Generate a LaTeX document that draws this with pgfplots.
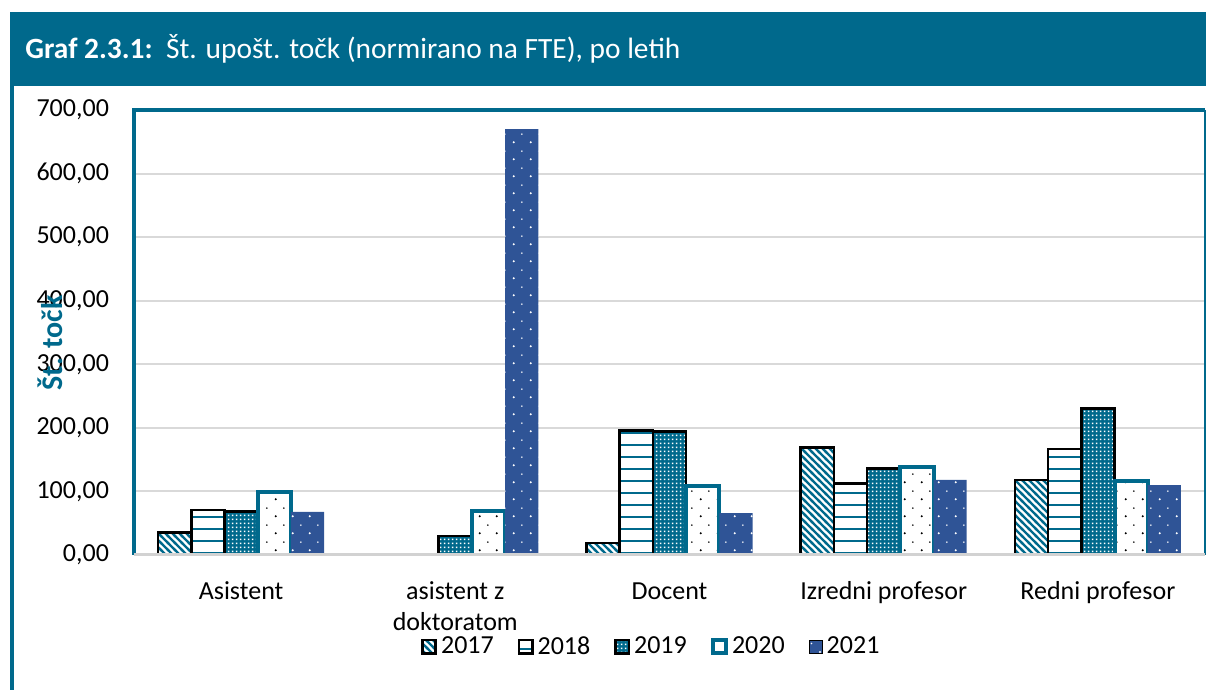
\documentclass[border=0pt]{standalone}
\usepackage{fontspec}
\setmainfont{Carlito}
\usepackage{pgfplots}
\pgfplotsset{compat=1.18}
\usetikzlibrary{patterns}
\definecolor{teal1}{RGB}{0,105,140}
\definecolor{dblue}{RGB}{47,84,150}
\pgfdeclarepatternformonly{diagstripes}{\pgfqpoint{-1pt}{-1pt}}{\pgfqpoint{4.5pt}{4.5pt}}{\pgfqpoint{3.5pt}{3.5pt}}{%
  \pgfsetlinewidth{1.2pt}\pgfsetrectcap
  \pgfpathmoveto{\pgfqpoint{-0.3pt}{3.8pt}}\pgfpathlineto{\pgfqpoint{3.8pt}{-0.3pt}}\pgfusepath{stroke}}
\pgfdeclarepatternformonly{hlines}{\pgfqpoint{-1pt}{0pt}}{\pgfqpoint{7pt}{6pt}}{\pgfqpoint{6pt}{6pt}}{%
  \pgfpathrectangle{\pgfqpoint{-0.5pt}{2pt}}{\pgfqpoint{7pt}{0.9pt}}\pgfusepath{fill}}
\pgfdeclarepatternformonly{finegrid}{\pgfqpoint{0pt}{0pt}}{\pgfqpoint{1.8pt}{1.8pt}}{\pgfqpoint{1.8pt}{1.8pt}}{%
  \pgfpathrectangle{\pgfqpoint{0.45pt}{0.45pt}}{\pgfqpoint{0.8pt}{0.8pt}}\pgfusepath{fill}}
\pgfdeclarepatternformonly{sparsedots}{\pgfqpoint{0pt}{0pt}}{\pgfqpoint{8.5pt}{8.5pt}}{\pgfqpoint{8.5pt}{8.5pt}}{%
  \pgfpathcircle{\pgfqpoint{2pt}{2pt}}{0.6pt}\pgfusepath{fill}
  \pgfpathcircle{\pgfqpoint{6.25pt}{6.25pt}}{0.45pt}\pgfusepath{fill}}
\pgfplotsset{mylegend/.style={legend image code/.code={\draw[##1] (0pt,-3.3pt) rectangle (6.6pt,3.3pt);}}}
\begin{document}
\begin{tikzpicture}[x=0.5pt,y=0.5pt]
\useasboundingbox (0,0) rectangle (1206,690);
\fill[teal1] (10,604) rectangle (1206,678);
\draw[teal1, line width=2pt] (12,604) -- (12,0);
\node[anchor=west, text=white, font=\fontsize{14.7}{17}\selectfont, inner sep=0pt] at (25,641) {\textbf{Graf 2.3.1:}\ \ Št. upošt. točk (normirano na FTE), po letih};
\begin{axis}[name=ax, at={(67pt,67.5pt)}, anchor=south west, scale only axis,
  width=535.5pt, height=222.5pt,
  ybar, bar width=0.155,
  xmin=-0.5, xmax=4.5, ymin=0, ymax=700,
  xtick={0,1,2,3,4},
  xticklabels={{\strut Asistent}, {\strut asistent z\\doktoratom}, {\strut Docent}, {\strut Izredni profesor}, {\strut Redni profesor}},
  ytick={0,100,...,700},
  major tick length=0pt,
  axis line style={draw=none},
  ymajorgrids, grid style={gray!30, line width=1pt},
  tick label style={font=\fontsize{13}{15.5}\selectfont},
  xticklabel style={align=center, yshift=-8pt},
  yticklabel style={xshift=-9pt},
  /pgf/number format/.cd, fixed, fixed zerofill, precision=2, use comma, 1000 sep={}, assume math mode=true,
  /pgfplots/.cd,
  legend style={at={(0.484,-0.206)}, anchor=center, draw=none, fill=none, legend columns=5,
    font=\fontsize{13}{15}\selectfont,
    /tikz/every even column/.append style={column sep=10pt}},
]
\addplot[mylegend, bar shift=-0.31, draw=black, line width=1.3pt, fill=white, postaction={pattern=diagstripes, pattern color=teal1}]
  coordinates {(0,35) (1,0) (2,19) (3,169) (4,118)};
\addplot[mylegend, bar shift=-0.155, draw=black, line width=1.3pt, fill=white, postaction={pattern=hlines, pattern color=teal1}]
  coordinates {(0,71) (1,0) (2,196) (3,112) (4,167)};
\addplot[mylegend, bar shift=0, draw=black, line width=1.3pt, fill=teal1, postaction={pattern=finegrid, pattern color=white}]
  coordinates {(0,68) (1,30) (2,194) (3,136) (4,230)};
\addplot[mylegend, bar shift=0.155, draw=teal1, line width=2pt, fill=white, postaction={pattern=sparsedots, pattern color=black}]
  coordinates {(0,99) (1,69) (2,109) (3,139) (4,116)};
\addplot[mylegend, bar shift=0.31, draw=none, fill=dblue, postaction={pattern=sparsedots, pattern color=white}]
  coordinates {(0,68) (1,670) (2,66) (3,118) (4,110)};
\legend{2017,2018,2019,2020,2021}
\end{axis}
\draw[teal1, line width=2pt] (ax.south west) -- (ax.north west) -- (ax.north east);
\draw[teal1, line width=0.8pt] (ax.north east) -- (ax.south east);
\draw[gray!35, line width=1.5pt] (ax.south west) -- (ax.south east);
\node[rotate=90, text=teal1, font=\fontsize{15}{17}\selectfont\bfseries] at (50,347) {Št. točk};
\end{tikzpicture}
\end{document}
